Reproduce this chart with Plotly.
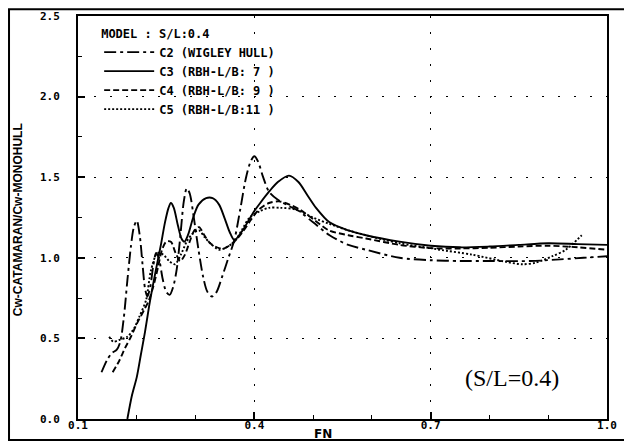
import plotly.graph_objects as go

# ---- data ----
c2_fn = [0.140, 0.150, 0.158, 0.166, 0.172, 0.178, 0.184, 0.190, 0.195, 0.200, 0.205, 0.210, 0.214, 0.218,
         0.223, 0.228, 0.233, 0.238, 0.244, 0.250, 0.256, 0.262, 0.268, 0.274, 0.280, 0.285, 0.290, 0.297,
         0.305, 0.313, 0.320, 0.328, 0.336, 0.345, 0.355, 0.366, 0.376, 0.386, 0.394, 0.400, 0.406, 0.415,
         0.425, 0.440, 0.460, 0.476, 0.500, 0.528, 0.560, 0.590, 0.647, 0.700, 0.750, 0.800, 0.870, 0.920,
         0.960, 1.000]
c2_val = [0.29, 0.37, 0.41, 0.43, 0.48, 0.63, 0.86, 1.07, 1.19, 1.23, 1.14, 0.95, 0.81, 0.76,
          0.82, 0.95, 1.03, 0.99, 0.87, 0.79, 0.77, 0.82, 0.93, 1.13, 1.35, 1.43, 1.40, 1.25,
          1.05, 0.88, 0.79, 0.76, 0.79, 0.88, 0.99, 1.11, 1.30, 1.50, 1.60, 1.63, 1.60, 1.50,
          1.41, 1.36, 1.32, 1.29, 1.22, 1.14, 1.08, 1.05, 1.00, 0.985, 0.98, 0.98, 0.98, 0.99,
          1.00, 1.01]

c3_fn = [0.184, 0.192, 0.200, 0.207, 0.214, 0.221, 0.228, 0.235, 0.241, 0.248, 0.254, 0.258, 0.263, 0.270,
         0.276, 0.281, 0.287, 0.296, 0.305, 0.318, 0.329, 0.340, 0.350, 0.358, 0.366, 0.380, 0.390, 0.400,
         0.410, 0.425, 0.440, 0.459, 0.475, 0.490, 0.505, 0.528, 0.560, 0.590, 0.647, 0.700, 0.750, 0.800,
         0.850, 0.900, 0.950, 1.000]
c3_val = [0.00, 0.15, 0.26, 0.40, 0.54, 0.70, 0.84, 0.97, 1.08, 1.22, 1.31, 1.34, 1.31, 1.20,
          1.12, 1.10, 1.14, 1.25, 1.33, 1.37, 1.37, 1.33, 1.24, 1.16, 1.11, 1.17, 1.23, 1.29,
          1.34, 1.41, 1.47, 1.51, 1.47, 1.39, 1.31, 1.22, 1.17, 1.14, 1.10, 1.075, 1.065, 1.07,
          1.08, 1.09, 1.085, 1.08]

c4_fn = [0.159, 0.170, 0.180, 0.190, 0.200, 0.213, 0.220, 0.228, 0.236, 0.243, 0.250, 0.258, 0.266, 0.274,
         0.282, 0.290, 0.298, 0.306, 0.315, 0.325, 0.340, 0.350, 0.366, 0.380, 0.395, 0.408, 0.425, 0.442,
         0.460, 0.477, 0.500, 0.527, 0.560, 0.590, 0.647, 0.700, 0.750, 0.800, 0.850, 0.900, 0.950, 1.000]
c4_val = [0.29, 0.36, 0.44, 0.51, 0.59, 0.68, 0.73, 0.82, 0.94, 1.05, 1.10, 1.10, 1.03, 0.98,
          1.02, 1.10, 1.17, 1.19, 1.14, 1.09, 1.06, 1.06, 1.10, 1.16, 1.24, 1.30, 1.34, 1.35,
          1.33, 1.30, 1.24, 1.17, 1.14, 1.12, 1.08, 1.06, 1.058, 1.062, 1.07, 1.075, 1.065, 1.05]

c5_fn = [0.153, 0.160, 0.170, 0.184, 0.195, 0.205, 0.216, 0.224, 0.235, 0.245, 0.255, 0.265, 0.275, 0.285,
         0.295, 0.306, 0.315, 0.325, 0.340, 0.350, 0.366, 0.380, 0.392, 0.410, 0.425, 0.445, 0.470, 0.500,
         0.528, 0.560, 0.590, 0.647, 0.700, 0.715, 0.770, 0.828, 0.856, 0.879, 0.907, 0.930, 0.957]
c5_val = [0.51, 0.48, 0.49, 0.51, 0.56, 0.64, 0.74, 0.92, 1.03, 1.02, 0.98, 0.96, 1.02, 1.10,
          1.15, 1.17, 1.13, 1.09, 1.05, 1.06, 1.10, 1.18, 1.25, 1.29, 1.31, 1.31, 1.30, 1.25,
          1.21, 1.17, 1.14, 1.09, 1.06, 1.05, 1.02, 0.975, 0.96, 0.97, 1.01, 1.05, 1.14]

names = ["C2 (WIGLEY HULL)", "C3 (RBH-L/B: 7 )", "C4 (RBH-L/B: 9 )", "C5 (RBH-L/B:11 )"]
x_ticks = [0.1, 0.4, 0.7, 1.0]
x_ticktext = ["0.1", "0.4", "0.7", "1.0"]
y_ticks = [0.0, 0.5, 1.0, 1.5, 2.0, 2.5]
y_ticktext = ["0.0", "0.5", "1.0", "1.5", "2.0", "2.5"]

# ---- figure ----
series = [(c2_fn, c2_val, "12px,4px,3px,4px"),
          (c3_fn, c3_val, "solid"),
          (c4_fn, c4_val, "6px,3px"),
          (c5_fn, c5_val, "2px,2px")]

fig = go.Figure()
for (xs, ys, dash), name in zip(series, names):
    fig.add_trace(go.Scatter(x=xs, y=ys, mode="lines", name=name,
                             line=dict(color="black", width=1.9, dash=dash,
                                       shape="spline", smoothing=0.8)))

mono = "DejaVu Sans Mono"
axis_common = dict(showline=True, linecolor="black", linewidth=2, mirror=True,
                   ticks="inside", tickcolor="black", tickwidth=1.5, ticklen=7,
                   showgrid=True, gridcolor="black", gridwidth=1.3, griddash="2px,14px",
                   zeroline=False, automargin=False,
                   tickfont=dict(family=mono, size=11, color="black", weight="bold"))

fig.update_xaxes(range=[0.1, 1.0], tickmode="array", tickvals=x_ticks, ticktext=x_ticktext,
                 minor=dict(dtick=0.1, tick0=0.1, ticks="inside", ticklen=4, tickcolor="black",
                            tickwidth=1.2, showgrid=False),
                 ticklabelstandoff=-5,
                 **axis_common)
fig.update_yaxes(range=[0, 2.5], tickmode="array", tickvals=y_ticks, ticktext=y_ticktext,
                 minor=dict(dtick=0.25, tick0=0, ticks="inside", ticklen=4, tickcolor="black",
                            tickwidth=1.2, showgrid=False),
                 ticklabelstandoff=14,
                 **axis_common)

# the page body has an 8px margin, so the figure is drawn 8px smaller and offset
fig.update_layout(
    width=624, height=434,
    margin=dict(l=70, r=25, t=8, b=23, autoexpand=False),
    paper_bgcolor="white", plot_bgcolor="white",
    showlegend=True,
    legend=dict(x=0.04, y=0.985, xanchor="left", yanchor="top",
                bgcolor="rgba(0,0,0,0)", borderwidth=0,
                title=dict(text="MODEL : S/L:0.4", font=dict(family=mono, size=12, color="black", weight="bold")),
                font=dict(family=mono, size=12, color="black", weight="bold"),
                itemwidth=50),
    annotations=[
        dict(text="FN", xref="paper", yref="paper", x=0.463, y=-0.037, showarrow=False,
             xanchor="center", yanchor="middle",
             font=dict(family="DejaVu Sans", size=12, color="black", weight="bold")),
        dict(text="Cw-CATAMARAN/Cw-MONOHULL", xref="paper", yref="paper", x=-0.113, y=0.494,
             showarrow=False, textangle=-90, xanchor="center", yanchor="middle",
             font=dict(family="Liberation Sans Narrow, Liberation Sans", size=12, color="black", weight="bold")),
        dict(text="(S/L=0.4)", xref="paper", yref="paper", x=0.820, y=0.102, showarrow=False,
             xanchor="center", yanchor="middle",
             font=dict(family="Liberation Serif", size=24, color="black")),
    ],
    shapes=[
        dict(type="rect", xref="paper", yref="paper", x0=-0.1304, x1=1.0397, y0=-0.052, y1=1.017,
             line=dict(color="black", width=2), fillcolor="rgba(0,0,0,0)", layer="above"),
    ],
)

fig.write_html("out.html")
